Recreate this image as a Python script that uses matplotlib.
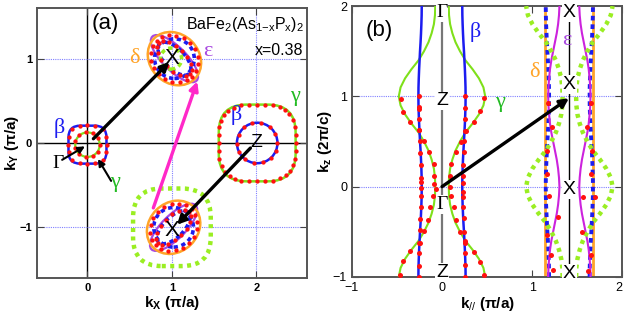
import numpy as np
import matplotlib
matplotlib.use("Agg")
import matplotlib.pyplot as plt
from matplotlib.patches import Circle, Ellipse, FancyBboxPatch
from matplotlib.transforms import Affine2D

plt.rcParams["font.family"] = ["Liberation Sans", "DejaVu Sans"]
plt.rcParams["mathtext.fontset"] = "custom"
plt.rcParams["mathtext.rm"] = "Liberation Sans"
plt.rcParams["mathtext.it"] = "Liberation Sans:italic"
plt.rcParams["mathtext.bf"] = "Liberation Sans:bold"

BLUE = "#1c1cf0"
GREEN = "#7fe01a"
GREEN_DOT = "#9aee22"
ORANGE = "#ffa428"
VIOLET = "#a848e0"
MAGENTA = "#ff28c8"
EPS_LINE = "#cc22dd"
RED = "#ff1010"
GRID = "#8080ff"
GREEK = ["Liberation Serif", "DejaVu Serif"]

# ---------------- panel (a): kx-ky Fermi surface map ----------------
kx_ticks = [0, 1, 2]
ky_ticks = [-1, 0, 1]

# pocket centres (pi/a)
G_pt = (0.0, -0.02)
Z_pt = (2.01, 0.0)
X_up = (1.03, 1.0)
X_dn = (1.02, -1.0)

# measured points: polar angle (deg) and distance from pocket centre
G_beta_ang = [0, 22, 45, 68, 90, 112, 135, 158, 180, 202, 225, 248, 270, 292, 315, 338]
G_beta_r = [0.23, 0.24, 0.255, 0.24, 0.23, 0.24, 0.255, 0.24, 0.23, 0.24, 0.255, 0.24,
            0.23, 0.24, 0.255, 0.24]
G_gam_ang = [0, 33, 65, 98, 131, 164, 196, 229, 262, 295, 327]
G_gam_r = [0.15, 0.15, 0.15, 0.15, 0.15, 0.15, 0.15, 0.15, 0.15, 0.15, 0.15]

Z_gam_ang = [0, 12, 23, 33, 42, 50, 58, 67, 78, 90, 102, 113, 123, 132, 140, 148,
             157, 168, 180, 192, 203, 213, 222, 230, 238, 247, 258, 270, 282, 293,
             303, 312, 320, 328, 337, 348]
Z_gam_r = [0.455, 0.465, 0.485, 0.50, 0.51, 0.51, 0.50, 0.485, 0.46, 0.45, 0.465,
           0.485, 0.50, 0.51, 0.51, 0.50, 0.485, 0.465, 0.455, 0.465, 0.485, 0.50,
           0.51, 0.51, 0.50, 0.485, 0.46, 0.45, 0.465, 0.485, 0.50, 0.51, 0.51,
           0.50, 0.485, 0.465]
Z_beta_ang = [0, 26, 52, 78, 104, 130, 156, 182, 208, 234, 260, 286, 312, 338]
Z_beta_r = [0.24, 0.24, 0.24, 0.24, 0.24, 0.24, 0.24, 0.24, 0.24, 0.24, 0.24, 0.24, 0.24, 0.24]

# points around the X pockets: parametric angle on the outer / inner ellipse
X_out_t = [0, 18, 36, 54, 72, 90, 108, 126, 144, 162, 180, 198, 216, 234, 252, 270,
           288, 306, 324, 342]
X_in_t = [0, 22, 45, 68, 90, 112, 135, 158, 180, 202, 225, 248, 270, 292, 315, 338]

# ---------------- panel (b): kz dispersion of kF ----------------
kz = [-1.0, -0.9, -0.8, -0.7, -0.6, -0.5, -0.4, -0.3, -0.2, -0.1, 0.0,
      0.1, 0.2, 0.3, 0.4, 0.5, 0.6, 0.7, 0.8, 0.9, 1.0,
      1.1, 1.2, 1.3, 1.4, 1.5, 1.6, 1.7, 1.8, 1.9, 2.0]
beta_kf = [0.262, 0.261, 0.258, 0.254, 0.249, 0.244, 0.238, 0.233, 0.229, 0.226, 0.225,
           0.226, 0.229, 0.233, 0.238, 0.244, 0.249, 0.254, 0.258, 0.261, 0.262,
           0.261, 0.258, 0.254, 0.249, 0.244, 0.238, 0.233, 0.229, 0.226, 0.225]
gamma_kf = [0.48, 0.46, 0.41, 0.34, 0.26, 0.20, 0.15, 0.115, 0.09, 0.078, 0.075,
            0.078, 0.09, 0.115, 0.15, 0.20, 0.26, 0.34, 0.41, 0.46, 0.48,
            0.46, 0.41, 0.34, 0.26, 0.20, 0.15, 0.115, 0.09, 0.078, 0.075]
# Gamma-centred sheets folded onto the X column (shifted by one in kz)
beta_fold_kf = [0.225, 0.226, 0.229, 0.233, 0.238, 0.244, 0.249, 0.254, 0.258, 0.261, 0.262,
                0.261, 0.258, 0.254, 0.249, 0.244, 0.238, 0.233, 0.229, 0.226, 0.225,
                0.226, 0.229, 0.233, 0.238, 0.244, 0.249, 0.254, 0.258, 0.261, 0.262]
gamma_fold_kf = [0.075, 0.078, 0.09, 0.115, 0.15, 0.20, 0.26, 0.34, 0.41, 0.46, 0.48,
                 0.46, 0.41, 0.34, 0.26, 0.20, 0.15, 0.115, 0.09, 0.078, 0.075,
                 0.078, 0.09, 0.115, 0.15, 0.20, 0.26, 0.34, 0.41, 0.46, 0.48]
eps_kf = [0.235, 0.232, 0.225, 0.215, 0.20, 0.18, 0.16, 0.14, 0.125, 0.115, 0.11,
          0.115, 0.125, 0.14, 0.16, 0.18, 0.20, 0.215, 0.225, 0.232, 0.235,
          0.232, 0.225, 0.215, 0.20, 0.18, 0.16, 0.14, 0.125, 0.115, 0.11]
delta_kf = 0.265
X_kpar = 1.414

# ARPES points near Gamma-Z
beta_L_kz = [1.0, 0.88, 0.86, 0.75, 0.63, 0.51, 0.37, 0.24, 0.10, 0.05, -0.02, -0.10,
             -0.23, -0.36, -0.48, -0.62, -0.74, -0.88, -1.0]
beta_L_k = [-0.26, -0.26, -0.255, -0.25, -0.25, -0.245, -0.24, -0.235, -0.23, -0.23,
            -0.23, -0.23, -0.235, -0.24, -0.245, -0.25, -0.255, -0.26, -0.26]
beta_R_kz = [1.0, 0.87, 0.75, 0.62, 0.51, 0.38, 0.24, 0.12, 0.04, -0.06, -0.12, -0.22,
             -0.35, -0.50, -0.62, -0.74, -0.87, -1.0]
beta_R_k = [0.26, 0.26, 0.255, 0.25, 0.245, 0.24, 0.235, 0.23, 0.23, 0.23, 0.23, 0.235,
            0.24, 0.245, 0.25, 0.255, 0.26, 0.26]
gam_L_kz = [0.97, 0.83, 0.72, 0.63, 0.51, 0.38, 0.25, 0.12, 0.03, -0.03, -0.10, -0.23,
            -0.37, -0.49, -0.62, -0.71, -0.82, -0.98]
gam_L_k = [-0.46, -0.43, -0.36, -0.25, -0.20, -0.14, -0.09, -0.085, -0.085, -0.07,
           -0.10, -0.13, -0.15, -0.20, -0.24, -0.36, -0.43, -0.47]
gam_R_kz = [0.98, 0.84, 0.72, 0.62, 0.50, 0.38, 0.25, 0.12, 0.0, -0.10, -0.22, -0.37,
            -0.50, -0.60, -0.72, -0.84, -0.98]
gam_R_k = [0.47, 0.42, 0.35, 0.27, 0.21, 0.15, 0.10, 0.09, 0.085, 0.10, 0.13, 0.16,
           0.20, 0.25, 0.35, 0.42, 0.47]
# ARPES points near X
xp_kz = [0.93, 0.66, 0.40, 0.14, -0.10, -0.34, -0.54, -0.76, -0.92,
         0.93, 0.66, 0.40, 0.14, -0.12, -0.12, -0.50, -0.76, -0.93]
xp_k = [1.18, 1.22, 1.17, 1.17, 1.19, 1.29, 1.17, 1.21, 1.23,
        1.65, 1.61, 1.67, 1.65, 1.70, 1.57, 1.56, 1.65, 1.62]

DOT_A = 3.1
DOT_B = 3.6


def ring_dots(ax, centre, ang, r):
    a = np.radians(ang)
    ax.plot(centre[0] + np.array(r) * np.cos(a), centre[1] + np.array(r) * np.sin(a),
            "o", color=RED, ms=DOT_A, mec="none", zorder=6)


def ellipse_dots(ax, centre, a, b, tilt, t):
    tr = Affine2D().scale(a, b).rotate_deg(tilt).translate(*centre) + ax.transData
    t = np.radians(t)
    ax.plot(np.cos(t), np.sin(t), "o", color=RED, ms=DOT_A, mec="none",
            transform=tr, zorder=6)


def rounded_square(ax, centre, half, rnd, **kw):
    p = FancyBboxPatch((centre[0] - half + rnd, centre[1] - half + rnd),
                       2 * (half - rnd), 2 * (half - rnd),
                       boxstyle=f"round,pad={rnd},rounding_size={rnd}", fill=False, **kw)
    ax.add_patch(p)


def arrow(ax, start, end, color="k", lw=2.4, ms=13):
    ax.annotate("", xy=end, xytext=start,
                arrowprops=dict(arrowstyle="-|>", color=color, lw=lw,
                                mutation_scale=ms, shrinkA=0, shrinkB=0), zorder=8)


fig = plt.figure(figsize=(6.24, 3.22), dpi=100)
axa = fig.add_axes([0.059, 0.137, 0.433, 0.838])
axb = fig.add_axes([0.564, 0.140, 0.433, 0.841])

# ---------- (a) ----------
ax = axa
ax.set_xlim(-0.6, 2.6)
ax.set_ylim(-1.6, 1.6)
ax.axvline(0, color="k", lw=1.0, zorder=1)
ax.axhline(0, color="k", lw=1.0, zorder=1)
for v in (1, 2):
    ax.axvline(v, color=GRID, lw=0.8, ls=(0, (1, 1)), zorder=1)
for v in (-1, 1):
    ax.axhline(v, color=GRID, lw=0.8, ls=(0, (1, 1)), zorder=1)

# Gamma pocket
rounded_square(ax, G_pt, 0.225, 0.14, ec=BLUE, lw=1.8, zorder=3)
ax.add_patch(Circle(G_pt, 0.145, fill=False, ec=GREEN, lw=1.6, zorder=3))
ring_dots(ax, G_pt, G_beta_ang, G_beta_r)
ring_dots(ax, G_pt, G_gam_ang, G_gam_r)

# Z pocket
rounded_square(ax, Z_pt, 0.455, 0.33, ec=GREEN, lw=1.8, zorder=3)
ax.add_patch(Circle(Z_pt, 0.24, fill=False, ec=BLUE, lw=1.8, zorder=3))
ring_dots(ax, Z_pt, Z_gam_ang, Z_gam_r)
ring_dots(ax, Z_pt, Z_beta_ang, Z_beta_r)

# X pockets (upper one tilted along (-1,1), lower one along (1,1))
rounded_square(ax, (1.0, -1.0), 0.46, 0.34, ec=GREEN_DOT, lw=3.2,
               ls=(0, (0.9, 1.0)), zorder=3)
for c, tilt in ((X_up, 135), (X_dn, 45)):
    ax.add_patch(Ellipse(c, 0.74, 0.28, angle=tilt, fill=False, ec=VIOLET, lw=1.6, zorder=3))
    ax.add_patch(Ellipse(c, 0.68, 0.58, angle=tilt, fill=False, ec=ORANGE, lw=1.8, zorder=3))
    ax.add_patch(Circle(c, 0.235, fill=False, ec=BLUE, lw=2.6, ls=(0, (1.2, 1.0)), zorder=4))
    ax.add_patch(Ellipse(c, 0.5, 0.24, angle=tilt, fill=False, ec=BLUE, lw=2.6,
                         ls=(0, (1.2, 1.0)), zorder=4))
    ellipse_dots(ax, c, 0.30, 0.26, tilt, X_out_t)
    ellipse_dots(ax, c, 0.26, 0.13, tilt, X_in_t)
ax.add_patch(Circle((0.99, 1.0), 0.125, fill=False, ec=GREEN_DOT, lw=2.6,
                    ls=(0, (1.2, 1.0)), zorder=5))

arrow(ax, (0.07, 0.05), (0.97, 0.96))
arrow(ax, (1.93, -0.06), (1.06, -0.97))
arrow(ax, (0.78, -0.77), (1.30, 0.73), color=MAGENTA)
arrow(ax, (-0.30, -0.20), (-0.03, -0.04), lw=1.5, ms=10)
arrow(ax, (0.28, -0.45), (0.125, -0.19), lw=1.5, ms=10)

ax.text(1.0, 1.0, "X", fontsize=16, ha="center", va="center", zorder=9)
ax.text(1.0, -1.04, "X", fontsize=16, ha="center", va="center", zorder=9)
ax.text(2.0, 0.0, "Z", fontsize=14, ha="center", va="center", zorder=9)
ax.text(-0.35, -0.24, "Γ", fontsize=14, ha="center", va="center", family=GREEK)
ax.text(-0.33, 0.18, "β", fontsize=16, color=BLUE, ha="center", va="center", family=GREEK)
ax.text(0.33, -0.47, "γ", fontsize=16, color="#22bb22", ha="center", va="center", family=GREEK)
ax.text(0.56, 1.0, "δ", fontsize=16, color=ORANGE, ha="center", va="center", family=GREEK)
ax.text(1.43, 1.09, "ε", fontsize=16, color=VIOLET, ha="center", va="center", family=GREEK)
ax.text(2.46, 0.55, "γ", fontsize=16, color="#22bb22", ha="center", va="center", family=GREEK)
ax.text(1.76, 0.33, "β", fontsize=16, color=BLUE, ha="center", va="center", family=GREEK)
ax.text(0.21, 1.42, "(a)", fontsize=16, ha="center", va="center")
ax.text(2.56, 1.40, r"BaFe$_2$(As$_{1\mathrm{-x}}$P$_\mathrm{x}$)$_2$", fontsize=11.5,
        ha="right", va="center")
ax.text(2.56, 1.10, "x=0.38", fontsize=11.5, ha="right", va="center")

ax.set_xticks(kx_ticks)
ax.set_yticks(ky_ticks)
ax.tick_params(direction="in", top=True, right=True, length=5, labelsize=8,
               color="#444444")
for lab in ax.get_xticklabels() + ax.get_yticklabels():
    lab.set_fontweight("bold")
ax.set_xlabel(r"k$_\mathbf{X}$ (π/a)", fontsize=11, fontweight="bold", labelpad=1)
ax.set_ylabel(r"k$_\mathbf{Y}$ (π/a)", fontsize=11, fontweight="bold", labelpad=0)
ax.yaxis.set_label_coords(-0.06, 0.5)
for s in ax.spines.values():
    s.set_color("#555555")
    s.set_linewidth(1.4)

# ---------- (b) ----------
ax = axb
ax.set_xlim(-1, 2)
ax.set_ylim(-1, 2)
for v in (0, 1):
    ax.axhline(v, color=GRID, lw=0.8, ls=(0, (1, 1)), zorder=1)
ax.axvline(0, color="#777777", lw=1.6, zorder=1)
ax.axvline(X_kpar, color="k", lw=1.0, zorder=1)

kz_a = np.array(kz)
for sgn in (-1, 1):
    ax.plot(sgn * np.array(gamma_kf), kz_a, color=GREEN, lw=1.5, zorder=3)
    ax.plot(sgn * np.array(beta_kf), kz_a, color=BLUE, lw=1.8, zorder=3)
    ax.axvline(X_kpar + sgn * delta_kf, color=ORANGE, lw=2.0, zorder=2)
    ax.plot(X_kpar + sgn * np.array(beta_fold_kf), kz_a, color=BLUE, lw=2.8,
            ls=(0, (1.2, 1.0)), zorder=3)
    ax.plot(X_kpar + sgn * np.array(eps_kf), kz_a, color=EPS_LINE, lw=1.5, zorder=3)
    ax.plot(X_kpar + sgn * np.array(gamma_fold_kf), kz_a, color=GREEN_DOT, lw=3.2,
            ls=(0, (0.9, 1.0)), zorder=4)

for k, z in ((beta_L_k, beta_L_kz), (beta_R_k, beta_R_kz), (gam_L_k, gam_L_kz),
             (gam_R_k, gam_R_kz), (xp_k, xp_kz)):
    ax.plot(k, z, "o", color=RED, ms=DOT_B, mec="none", zorder=6)

arrow(ax, (0.0, 0.0), (1.41, 0.98))

box = dict(fc="white", ec="none", pad=0.6)
for x, y, s in ((0, 1.93, "Γ"), (0, 0.95, "Z"), (0, -0.2, "Γ"), (0, -0.95, "Z"),
                (X_kpar, 1.93, "X"), (X_kpar, 1.13, "X"), (X_kpar, -0.03, "X"),
                (X_kpar, -0.96, "X")):
    ax.text(x, y, s, fontsize=14, ha="center", va="center", bbox=box, zorder=7,
            family=GREEK if s == "Γ" else None)
ax.text(-0.7, 1.73, "(b)", fontsize=16, ha="center", va="center")
ax.text(0.37, 1.71, "β", fontsize=16, color=BLUE, ha="center", va="center", family=GREEK)
ax.text(0.64, 0.93, "γ", fontsize=16, color="#22bb22", ha="center", va="center", family=GREEK)
ax.text(1.03, 1.27, "δ", fontsize=16, color=ORANGE, ha="center", va="center", family=GREEK)
ax.text(1.39, 1.62, "ε", fontsize=16, color=VIOLET, ha="center", va="center", family=GREEK)

ax.set_xticks([-1, 0, 1, 2])
ax.set_yticks([-1, 0, 1, 2])
ax.tick_params(direction="in", top=True, right=True, length=5, labelsize=9,
               color="#444444")
ax.get_xticklabels()[-1].set_horizontalalignment("right")
ax.set_xlabel(r"k$_{//}$ (π/a)", fontsize=11, fontweight="bold", labelpad=1)
ax.set_ylabel(r"k$_\mathbf{z}$ (2π/c)", fontsize=11, fontweight="bold", labelpad=2)
ax.yaxis.set_label_coords(-0.067, 0.5)
for s in ax.spines.values():
    s.set_color("#555555")
    s.set_linewidth(1.4)

fig.savefig("out.png", dpi=100)
